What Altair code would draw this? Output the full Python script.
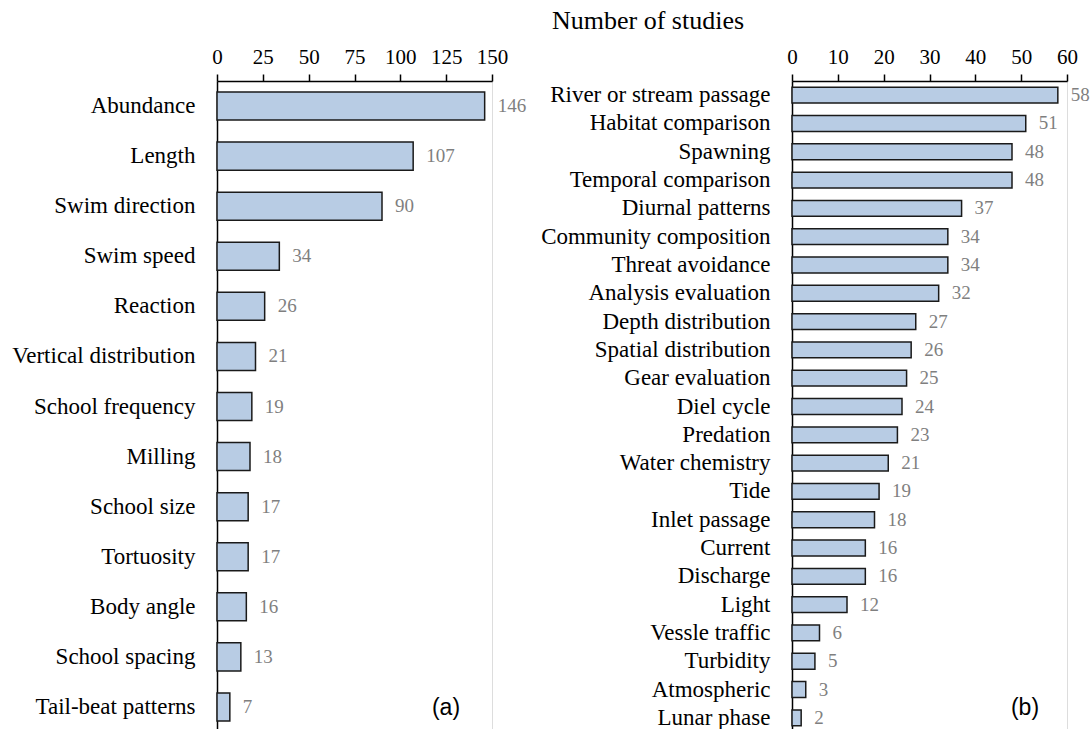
import altair as alt
import pandas as pd

SERIF = "Times New Roman, Liberation Serif, serif"
SANS = "Arial, Liberation Sans, sans-serif"

cats_a = ["Abundance", "Length", "Swim direction", "Swim speed", "Reaction",
          "Vertical distribution", "School frequency", "Milling", "School size",
          "Tortuosity", "Body angle", "School spacing", "Tail-beat patterns"]
vals_a = [146, 107, 90, 34, 26, 21, 19, 18, 17, 17, 16, 13, 7]
ticks_a = [0, 25, 50, 75, 100, 125, 150]

cats_b = ["River or stream passage", "Habitat comparison", "Spawning",
          "Temporal comparison", "Diurnal patterns", "Community composition",
          "Threat avoidance", "Analysis evaluation", "Depth distribution",
          "Spatial distribution", "Gear evaluation", "Diel cycle", "Predation",
          "Water chemistry", "Tide", "Inlet passage", "Current", "Discharge",
          "Light", "Vessle traffic", "Turbidity", "Atmospheric", "Lunar phase"]
vals_b = [58, 51, 48, 48, 37, 34, 34, 32, 27, 26, 25, 24, 23, 21, 19, 18, 16, 16,
          12, 6, 5, 3, 2]
ticks_b = [0, 10, 20, 30, 40, 50, 60]

FILL = "#b8cce4"
W = 275
H = 651


def panel(cats, vals, ticks, dmax, tag, tag_x, tag_y):
    df = pd.DataFrame({"cat": cats, "n": vals})
    yenc = alt.Y("cat:N", sort=cats, title=None,
                 scale=alt.Scale(paddingInner=0.44, paddingOuter=0.22),
                 axis=alt.Axis(ticks=False, labelPadding=22, labelFontSize=23,
                               labelFont=SERIF, labelColor="black",
                               domainColor="black", domainWidth=1.5,
                               labelLimit=400))
    xenc = alt.X("n:Q", title=None,
                 scale=alt.Scale(domain=[0, dmax], nice=False, zero=True),
                 axis=alt.Axis(orient="top", values=ticks, grid=False,
                               labelFont=SERIF, labelFontSize=21,
                               labelColor="black", tickColor="black",
                               tickSize=7, tickWidth=1.5, domainColor="black",
                               domainWidth=1.5, labelPadding=7,
                               labelFlush=False, labelOverlap=False))
    bars = alt.Chart(df).mark_bar(fill=FILL, stroke="#1a1a1a",
                                  strokeWidth=1.5).encode(x=xenc, y=yenc)
    labels = alt.Chart(df).mark_text(align="left", baseline="middle", dx=13,
                                     font=SERIF, fontSize=19,
                                     color="#7f7f7f").encode(
        x="n:Q", y=alt.Y("cat:N", sort=cats), text="n:Q")
    tagc = alt.Chart(pd.DataFrame({"t": [tag]})).mark_text(
        font=SANS, fontSize=23, color="black", baseline="middle",
        align="center").encode(x=alt.value(tag_x), y=alt.value(tag_y),
                               text="t:N")
    return alt.layer(bars, labels, tagc).properties(width=W, height=H)


pa = panel(cats_a, vals_a, ticks_a, 150, "(a)", 229, 627)
pb = panel(cats_b, vals_b, ticks_b, 60, "(b)", 233, 627)

chart = alt.hconcat(pa, pb, spacing=300, bounds="flush").properties(
    title=alt.TitleParams("Number of studies", font=SERIF, fontSize=26,
                          fontWeight="normal", color="black",
                          anchor="middle", frame="group", offset=12, dx=431),
    padding={"left": 11, "top": 7, "right": 0, "bottom": 0},
).configure_view(stroke=None).configure(background="white")

chart.save("out.html", embed_options={"renderer": "svg", "actions": False})
